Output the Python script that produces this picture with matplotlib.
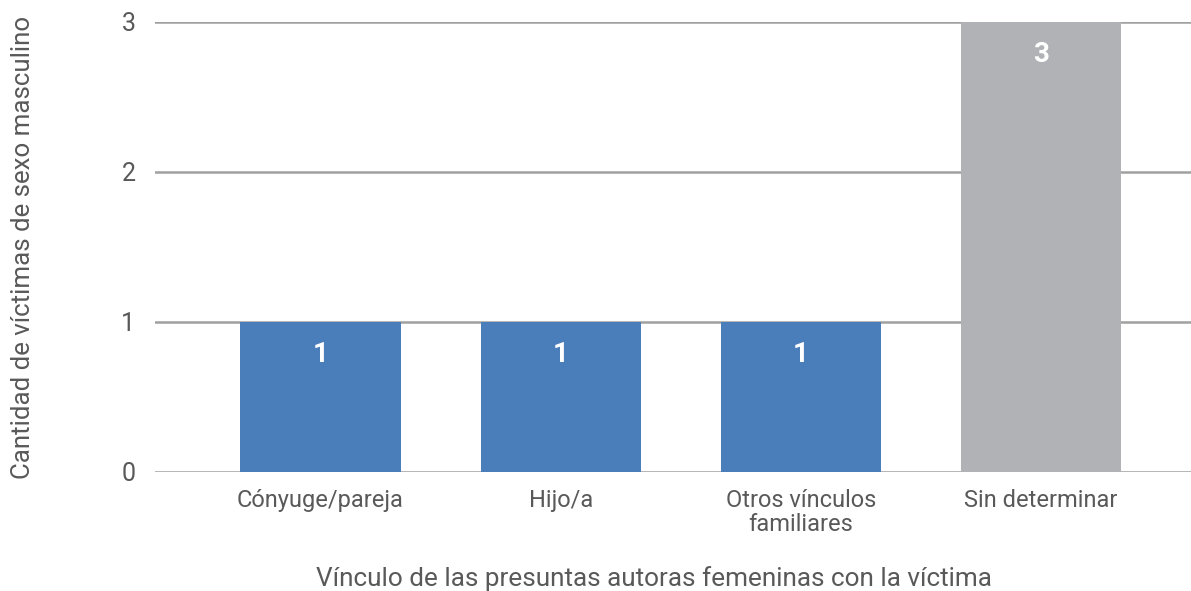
import matplotlib
matplotlib.use("Agg")
import matplotlib.pyplot as plt

categories = ["Cónyuge/pareja", "Hijo/a", "Otros vínculos\nfamiliares", "Sin determinar"]
values = [1, 1, 1, 3]
colors = ["#4A7EBB", "#4A7EBB", "#4A7EBB", "#B1B2B5"]
yticks = [0, 1, 2, 3]

plt.rcParams['font.family'] = ['Roboto', 'DejaVu Sans']

fig = plt.figure(figsize=(11.91, 5.91), dpi=100)
ax = fig.add_axes([0.130, 0.2014, 0.870, 0.7614])

x = list(range(len(categories)))
bars = ax.bar(x, values, width=0.667, color=colors, zorder=3)
for xi, v in zip(x, values):
    ax.annotate(str(v), (xi, v), xytext=(0, -33), textcoords='offset pixels',
                ha='center', va='center', color='white', fontsize=20,
                fontweight='bold', zorder=4)

ax.set_xlim(-0.69, 3.625)
ax.set_ylim(0, 3)
ax.set_yticks(yticks)
ax.set_yticklabels([str(t) for t in yticks])
ax.set_xticks(x)
ax.set_xticklabels(categories)
ax.yaxis.grid(True, color='#A0A0A0', linewidth=1.8, zorder=0)
ax.set_axisbelow(True)
for s in ax.spines.values():
    s.set_visible(False)
ax.tick_params(axis='y', length=0, pad=14, labelsize=18, labelcolor='#595959')
ax.tick_params(axis='x', length=0, pad=12, labelsize=17, labelcolor='#595959')
for lab in ax.get_xticklabels():
    lab.set_linespacing(1.08)

ax.set_xlabel("Vínculo de las presuntas autoras femeninas con la víctima",
              fontsize=18.8, color='#595959')
ax.xaxis.set_label_coords(0.4817, -0.209)
fig.text(0.019, 0.582, "Cantidad de víctimas de sexo masculino", rotation=90,
         ha='center', va='center', fontsize=18.6, color='#595959')

fig.savefig("out.png", dpi=100)
